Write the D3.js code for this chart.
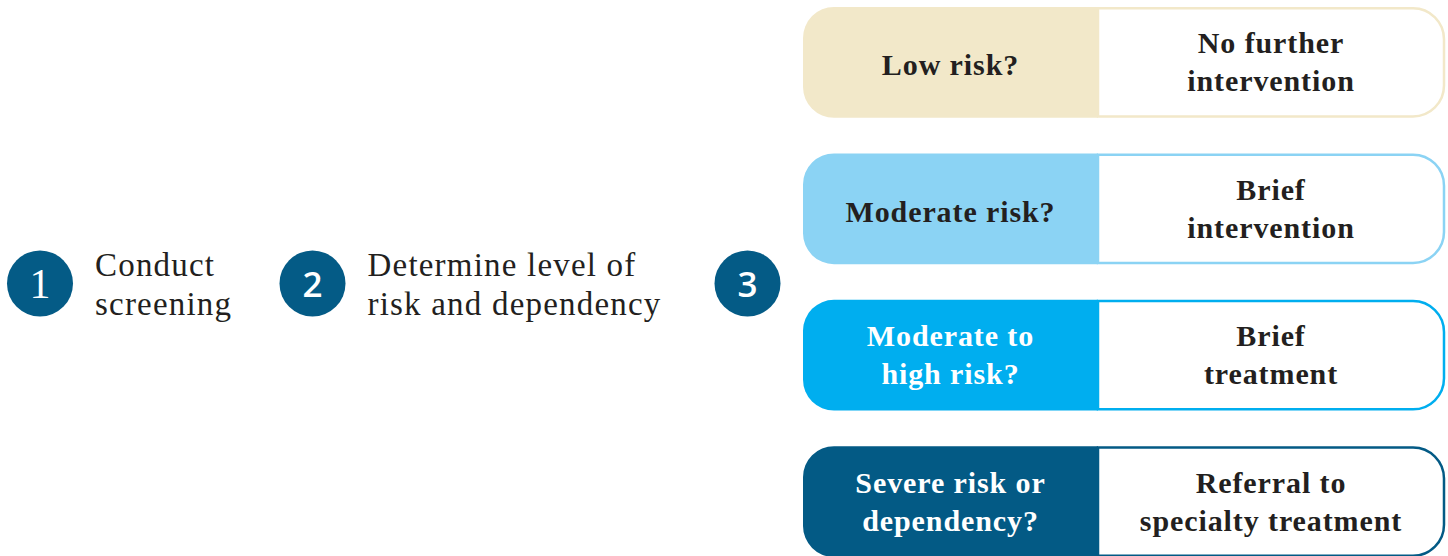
<!DOCTYPE html>
<html>
<head>
<meta charset="utf-8">
<script src="https://cdn.jsdelivr.net/npm/d3@7"></script>
<style>
  body { margin: 0; background: #fff; }
  svg { display: block; }
  text { font-family: "Palatino Linotype", "Book Antiqua", Palatino, "Liberation Serif", serif; }
</style>
</head>
<body>
<svg width="1448" height="556"></svg>
<script>
// steps on the left
const stepNumbers = ['1', '2', '3'];
const stepLabels = [
  ['Conduct', 'screening'],
  ['Determine level of', 'risk and dependency'],
  []
];

// risk levels on the right
const riskLevels = [
  ['Low risk?'],
  ['Moderate risk?'],
  ['Moderate to', 'high risk?'],
  ['Severe risk or', 'dependency?']
];
const actions = [
  ['No further', 'intervention'],
  ['Brief', 'intervention'],
  ['Brief', 'treatment'],
  ['Referral to', 'specialty treatment']
];
const riskColors = ['#f2e8c9', '#8bd3f4', '#00aeef', '#035a85'];
const riskTextColors = ['#231f20', '#231f20', '#ffffff', '#ffffff'];

const svg = d3.select('svg');
const width = +svg.attr('width');
const height = +svg.attr('height');

const dark = '#045b86';
const ink = '#231f20';

// ---- step circles (x positions are layout, not data)
const stepX = [40, 312.5, 747.5];
const stepY = 283.5;
const r = 33;

const steps = svg.append('g').selectAll('g')
  .data(stepNumbers)
  .join('g')
    .attr('transform', (d, i) => `translate(${stepX[i]},${stepY})`);

steps.append('circle')
  .attr('r', r)
  .attr('fill', dark);

steps.append('text')
  .attr('text-anchor', 'middle')
  .attr('y', (d, i) => i === 0 ? 14 : 13)
  .attr('fill', '#fff')
  .style('font-family', (d, i) => i === 0 ? '"Liberation Serif", serif' : '"Open Sans", "Liberation Sans", sans-serif')
  .style('font-weight', (d, i) => i === 0 ? 'normal' : '600')
  .style('font-size', (d, i) => i === 0 ? '42px' : '35px')
  .text(d => d);

steps.append('text')
  .attr('x', r + 22)
  .attr('fill', ink)
  .style('font-size', '33px')
  .style('letter-spacing', '1.2px')
  .selectAll('tspan')
  .data((d, i) => stepLabels[i])
  .join('tspan')
    .attr('x', r + 22)
    .attr('y', (d, i, n) => (i - (n.length - 1) / 2) * 39 + 12)
    .text(d => d);

// ---- risk boxes
const boxLeft = 803;
const boxRight = 1444;
const split = 1098;
const rad = 31;

const yScale = d3.scaleBand()
  .domain(d3.range(riskLevels.length))
  .range([7, 557])
  .paddingInner(0.243)
  .paddingOuter(0);

const boxH = yScale.bandwidth();

const leftPath = (y, h) => {
  const p = d3.path();
  p.moveTo(split, y);
  p.lineTo(boxLeft + rad, y);
  p.arcTo(boxLeft, y, boxLeft, y + rad, rad);
  p.lineTo(boxLeft, y + h - rad);
  p.arcTo(boxLeft, y + h, boxLeft + rad, y + h, rad);
  p.lineTo(split, y + h);
  p.closePath();
  return p.toString();
};

const rightPath = (y, h) => {
  const p = d3.path();
  p.moveTo(split, y);
  p.lineTo(boxRight - rad, y);
  p.arcTo(boxRight, y, boxRight, y + rad, rad);
  p.lineTo(boxRight, y + h - rad);
  p.arcTo(boxRight, y + h, boxRight - rad, y + h, rad);
  p.lineTo(split, y + h);
  p.closePath();
  return p.toString();
};

const rows = svg.append('g').selectAll('g')
  .data(riskLevels)
  .join('g');

rows.append('path')
  .attr('d', (d, i) => rightPath(yScale(i) + 1.25, boxH - 2.5))
  .attr('fill', '#fff')
  .attr('stroke', (d, i) => riskColors[i])
  .attr('stroke-width', 2.5);

rows.append('path')
  .attr('d', (d, i) => leftPath(yScale(i), boxH))
  .attr('fill', (d, i) => riskColors[i]);

const lineH = 38;

rows.append('text')
  .attr('text-anchor', 'middle')
  .attr('fill', (d, i) => riskTextColors[i])
  .style('font-size', '30px')
  .style('font-weight', 'bold')
  .style('letter-spacing', '0.9px')
  .selectAll('tspan')
  .data((d, i) => d.map(t => ({ t, i, n: d.length })))
  .join('tspan')
    .attr('x', (boxLeft + split) / 2)
    .attr('y', (d, j) => yScale(d.i) + boxH / 2 + (j - (d.n - 1) / 2) * lineH + (d.n === 1 ? 13 : 10))
    .text(d => d.t);

rows.append('text')
  .attr('text-anchor', 'middle')
  .attr('fill', ink)
  .style('font-size', '30px')
  .style('font-weight', 'bold')
  .style('letter-spacing', '0.9px')
  .selectAll('tspan')
  .data((d, i) => actions[i].map(t => ({ t, i, n: actions[i].length })))
  .join('tspan')
    .attr('x', (split + boxRight) / 2)
    .attr('y', (d, j) => yScale(d.i) + boxH / 2 + (j - (d.n - 1) / 2) * lineH + 10)
    .text(d => d.t);
</script>
</body>
</html>
